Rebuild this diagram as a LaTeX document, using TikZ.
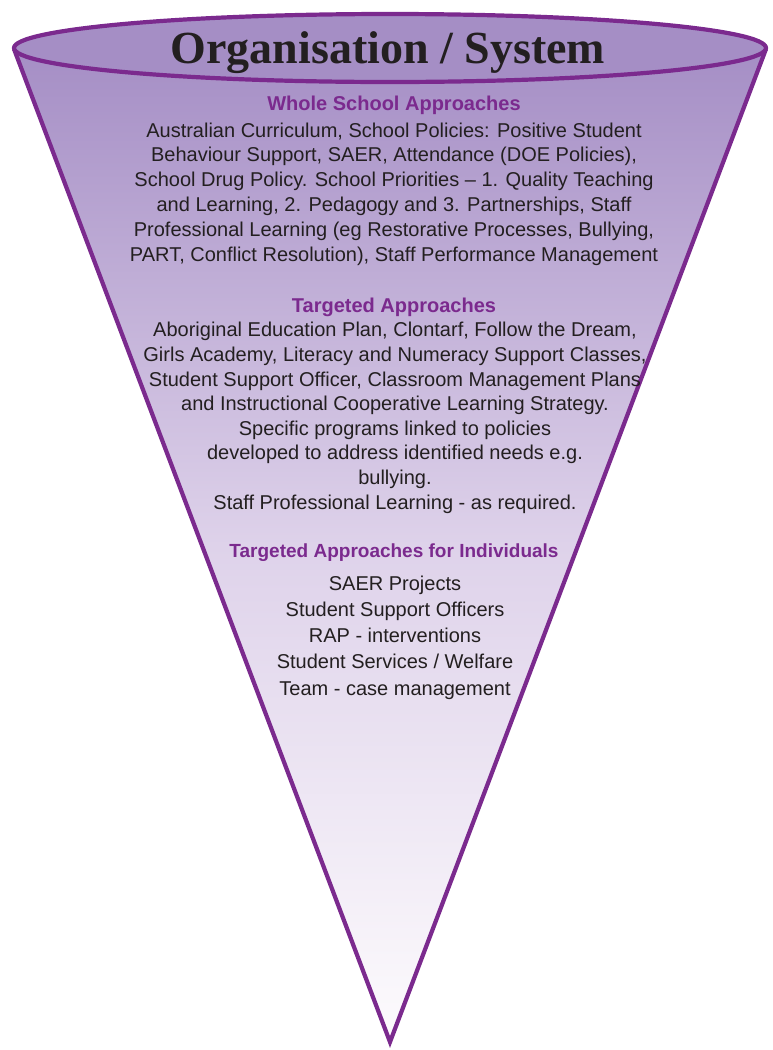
\documentclass[tikz,border=0pt]{standalone}
\usepackage{fontspec}
\setmainfont{Liberation Sans}
\newfontfamily\titlefont{Liberation Serif}
\usetikzlibrary{shapes}
\definecolor{funnelpurple}{RGB}{123,42,142}
\definecolor{funneltop}{RGB}{165,142,197}
\definecolor{funnelmid}{RGB}{222,210,234}
\definecolor{funnelbottom}{RGB}{253,251,253}
\definecolor{textdark}{RGB}{35,31,32}

\begin{document}
\begin{tikzpicture}[x=1pt,y=-1pt]
\tikzset{
mytitle/.style={inner sep=0pt, anchor=base, text=textdark, font=\titlefont\bfseries\fontsize{46}{50}\selectfont},
myhead/.style={inner sep=0pt, anchor=base, text=funnelpurple, font=\bfseries\fontsize{20}{25}\selectfont},
mytext/.style={inner sep=0pt, anchor=base, align=center, text=textdark, font=\fontsize{20}{24.8}\selectfont},
myline/.style={draw=funnelpurple, line width=4.2pt, line join=miter},
}
\useasboundingbox (0,0) rectangle (772,1050);

% funnel body and rim
\coordinate (rimleft) at (14,49);
\coordinate (rimright) at (766,49);
\coordinate (apex) at (390,1042);
\fill[top color=funneltop, bottom color=funnelbottom, middle color=funnelmid] (rimleft) -- (apex) -- (rimright) -- cycle;
\draw[myline] (rimleft) -- (apex) -- (rimright);
\draw[myline, fill=funneltop] (390,48) ellipse [x radius=376, y radius=34];

\node[mytitle] (title) at (388,63) {Organisation / System};

% whole school (base = last line)
\node[myhead] (wholehead) at (394,110) {Whole School Approaches};
\node[mytext] (wholetext) at (394,261) {Australian Curriculum, School Policies: Positive Student\\
Behaviour Support, SAER, Attendance (DOE Policies),\\
School Drug Policy. School Priorities -- 1. Quality Teaching\\
and Learning, 2. Pedagogy and 3. Partnerships, Staff\\
Professional Learning (eg Restorative Processes, Bullying,\\
PART, Conflict Resolution), Staff Performance Management};

% targeted
\node[myhead] (targethead) at (394,312) {Targeted Approaches};
\node[mytext, font=\fontsize{20}{24.6}\selectfont] (targettext) at (395,509) {Aboriginal Education Plan, Clontarf, Follow the Dream,\\
Girls Academy, Literacy and Numeracy Support Classes,\\
Student Support Officer, Classroom Management Plans\\
and Instructional Cooperative Learning Strategy.\\
Specific programs linked to policies\\
developed to address identified needs e.g.\\
bullying.\\
Staff Professional Learning - as required.};

% individuals
\node[myhead, font=\bfseries\fontsize{19}{25}\selectfont] (indivhead) at (394,557) {Targeted Approaches for Individuals};
\node[mytext, font=\fontsize{20}{26.2}\selectfont] (indivtext) at (395,695) {SAER Projects\\
Student Support Officers\\
RAP - interventions\\
Student Services / Welfare\\
Team - case management};
\end{tikzpicture}
\end{document}
